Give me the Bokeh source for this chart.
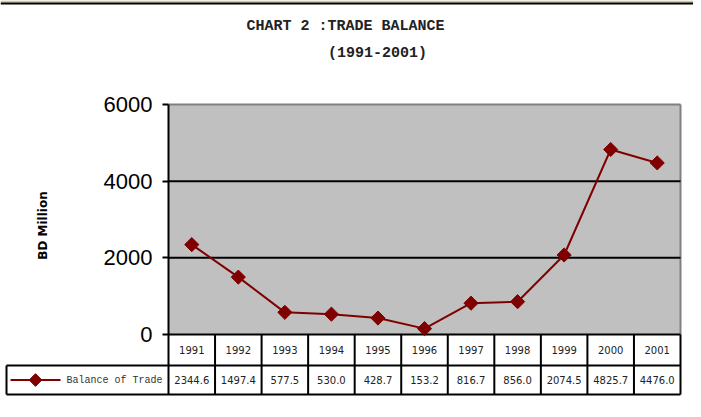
import numpy as np
from bokeh.plotting import figure
from bokeh.models import Range1d, LinearAxis, FixedTicker, Label
from bokeh.core.properties import value
from bokeh.embed import file_html
from bokeh.resources import INLINE

# ---------------- data ----------------
years = ["1991", "1992", "1993", "1994", "1995", "1996",
         "1997", "1998", "1999", "2000", "2001"]
balance = [2344.6, 1497.4, 577.5, 530.0, 428.7, 153.2,
           816.7, 856.0, 2074.5, 4825.7, 4476.0]
y_ticks = [0, 2000, 4000, 6000]
series_name = "Balance of Trade"
title_text = "CHART 2 :TRADE BALANCE"
subtitle_text = "(1991-2001)"
y_label = "BD Million"

# ---------------- layout (pixels) ----------------
W, H = 693, 409
PX_LEFT = 168          # plot-area left edge
PX_RIGHT = 680         # plot-area right edge
PY_ZERO = 334          # y of value 0
PY_TOP = 104           # y of top value
n = len(years)
PX_COL = (PX_RIGHT - PX_LEFT) / n
YMAX = y_ticks[-1]
upp_y = YMAX / (PY_ZERO - PY_TOP)


def X(px):
    return (px - PX_LEFT) / PX_COL


def Y(py):
    return (PY_ZERO - py) * upp_y


MAROON = "#800000"
GRAY_FILL = "#C0C0C0"
GRAY_EDGE = "#808080"
TAN = "#D3C48E"

p = figure(width=W, height=H, output_backend="svg", toolbar_location=None,
           x_range=Range1d(X(0), X(W)), y_range=Range1d(Y(H), Y(0)),
           x_axis_location=None, y_axis_location=None,
           min_border=0, min_border_left=0, min_border_right=0,
           min_border_top=0, min_border_bottom=0)
p.title.visible = False
p.grid.visible = False
p.outline_line_color = None
p.background_fill_color = "white"
p.border_fill_color = "white"

# top frame band
p.quad(left=[X(0)], right=[X(W)], bottom=[Y(2)], top=[Y(0)],
       fill_color=TAN, line_color=None)
p.quad(left=[X(0)], right=[X(W)], bottom=[Y(4)], top=[Y(2)],
       fill_color="black", line_color=None)

# plot area
p.quad(left=[0], right=[n], bottom=[0], top=[YMAX],
       fill_color=GRAY_FILL, line_color=None)
p.segment(x0=[0, n], y0=[YMAX, 0], x1=[n, n], y1=[YMAX, YMAX],
          line_color=GRAY_EDGE, line_width=2)
inner = y_ticks[1:-1]
p.segment(x0=[0] * len(inner), y0=inner, x1=[n] * len(inner), y1=inner,
          line_color="black", line_width=2)

# data table
row1_bot = Y(365)
row2_bot = Y(394)
leg_left = X(6)
mid1 = (0 + row1_bot) / 2
mid2 = (row1_bot + row2_bot) / 2
vx = list(range(1, n + 1))
p.segment(x0=vx, y0=[row2_bot] * n, x1=vx, y1=[0] * n,
          line_color="black", line_width=2)
p.segment(x0=[0], y0=[row2_bot], x1=[0], y1=[YMAX],
          line_color="black", line_width=2)
p.segment(x0=[leg_left], y0=[row2_bot], x1=[leg_left], y1=[row1_bot],
          line_color="black", line_width=2)
p.segment(x0=[0, leg_left, leg_left], y0=[0, row1_bot, row2_bot],
          x1=[n, n, n], y1=[0, row1_bot, row2_bot],
          line_color="black", line_width=2)

xs = np.arange(n) + 0.5
p.text(x=xs, y=[mid1] * n, text=years, text_align="center",
       text_baseline="middle", text_font=value("DejaVu Sans"),
       text_font_size="10px", text_color="#222222")
p.text(x=xs, y=[mid2] * n, text=[f"{v:.1f}" for v in balance],
       text_align="center", text_baseline="middle",
       text_font=value("DejaVu Sans"), text_font_size="10px",
       text_color="#222222")

# legend key in table
p.segment(x0=[X(10)], y0=[mid2], x1=[X(60)], y1=[mid2],
          line_color=MAROON, line_width=2)
p.scatter(x=[X(35)], y=[mid2], marker="square", angle=np.pi / 4,
          size=9, color=MAROON)
p.text(x=[X(66)], y=[mid2], text=[series_name], text_align="left",
       text_baseline="middle", text_font=value("Liberation Mono"),
       text_font_size="10px", text_color="#333333")

# series
p.line(xs, balance, line_color=MAROON, line_width=2)
p.scatter(xs, balance, marker="square", angle=np.pi / 4, size=10,
          color=MAROON)

# y axis
ax = LinearAxis(fixed_location=0, ticker=FixedTicker(ticks=y_ticks))
ax.axis_line_color = None
ax.major_tick_out = 6
ax.major_tick_in = 0
ax.major_tick_line_width = 2
ax.major_tick_line_color = "black"
ax.minor_tick_line_color = None
ax.major_label_standoff = 10
ax.major_label_text_font = "Liberation Sans"
ax.major_label_text_font_size = "22px"
ax.major_label_text_color = "black"
p.add_layout(ax, "left")

# y label
p.add_layout(Label(x=X(42), y=Y(225), text=y_label, angle=np.pi / 2,
                   text_align="center", text_baseline="middle",
                   text_font="DejaVu Sans", text_font_style="bold",
                   text_font_size="12px", text_color="black"))

# titles
p.add_layout(Label(x=X(345), y=Y(26), text=title_text,
                   text_align="center", text_baseline="middle",
                   text_font="Liberation Mono", text_font_style="bold",
                   text_font_size="15px", text_color="#222222"))
p.add_layout(Label(x=X(377), y=Y(53), text=subtitle_text,
                   text_align="center", text_baseline="middle",
                   text_font="Liberation Mono", text_font_style="bold",
                   text_font_size="15px", text_color="#222222"))

open("out.html", "w").write(file_html(p, INLINE))
